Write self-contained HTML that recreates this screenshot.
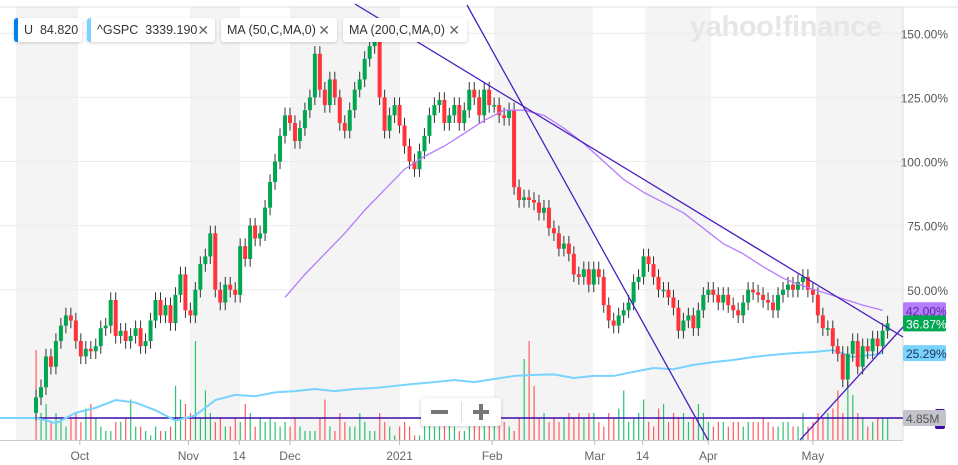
<!DOCTYPE html>
<html><head><meta charset="utf-8"><style>
body{margin:0;background:#fff;font-family:"Liberation Sans",sans-serif}
svg{display:block}
.chip{position:absolute;top:18px;height:24px;box-sizing:border-box;background:#fff;border-radius:3px;box-shadow:0 1px 3px rgba(0,0,0,.18);font-size:12.5px;color:#333;line-height:24px;padding:0 7px 0 10px;white-space:nowrap;display:flex;justify-content:space-between}
.chip .bar{position:absolute;left:0;top:0;bottom:0;width:4px;border-radius:3px 0 0 3px}
.x{color:#666;font-size:14px}
</style></head><body>
<div style="position:relative;width:958px;height:465px;overflow:hidden">
<svg id="c" width="958" height="465"></svg>
<div class="chip" style="left:14px;width:68px"><span class="bar" style="background:#0081f2"></span><span>U&nbsp; 84.820</span></div>
<div class="chip" style="left:87px;width:128px"><span class="bar" style="background:#79d3ff"></span><span>^GSPC&nbsp; 3339.190</span><span class="x">✕</span></div>
<div class="chip" style="left:221px;width:116px;padding-left:6px"><span>MA (50,C,MA,0)</span><span class="x">✕</span></div>
<div class="chip" style="left:343px;width:124px;padding-left:6px"><span>MA (200,C,MA,0)</span><span class="x">✕</span></div>
<div style="position:absolute;left:421px;top:398px;width:80px;height:28px;background:#fff;border-radius:3px;box-shadow:0 1px 4px rgba(0,0,0,.2)">
<div style="position:absolute;left:10px;top:12px;width:17px;height:4px;background:#777"></div>
<div style="position:absolute;left:40px;top:4px;width:1px;height:20px;background:#ddd"></div>
<div style="position:absolute;left:52px;top:12px;width:16px;height:4px;background:#777"></div>
<div style="position:absolute;left:58px;top:6px;width:4px;height:16px;background:#777"></div>
</div>
</div>
<script>
const closes=[8,12,24,20,30,36,40,38,30,24,27,26,28,35,36,46,32,34,30,32,35,28,30,38,46,40,44,37,48,56,42,40,50,60,63,72,50,45,52,50,48,67,62,75,70,72,82,92,100,110,118,115,108,113,120,125,142,128,122,132,125,115,112,120,128,132,140,145,148,125,112,118,122,114,106,100,97,104,110,118,122,124,115,118,122,115,120,128,125,118,128,122,122,118,117,120,90,85,86,85,84,80,82,74,72,66,68,64,56,55,58,52,58,55,44,38,36,40,42,45,53,55,63,60,55,50,50,47,43,34,38,40,35,42,48,50,48,45,48,44,42,40,45,50,49,48,46,45,42,48,50,52,50,53,55,50,48,40,35,35,28,25,15,25,30,20,28,26,31,28,34,36.87];
const volumes=[20,6,8,4,6,5,3,5,6,4,7,8,5,3,2,2,4,4,5,9,3,3,2,1,3,2,2,3,12,9,8,6,22,5,11,6,4,5,3,3,5,4,8,6,3,5,4,5,4,3,4,3,5,3,2,2,2,5,9,3,2,6,4,3,3,6,4,2,2,6,4,3,1,3,4,3,1,1,3,5,3,3,4,6,3,2,2,3,4,3,4,4,5,6,4,3,2,5,18,22,12,5,6,4,5,4,5,6,5,6,5,6,6,4,3,6,5,7,11,4,5,6,9,4,3,7,8,4,6,5,6,4,5,8,6,4,3,4,4,3,4,4,3,4,4,4,5,4,3,3,4,4,3,3,6,3,4,6,5,6,7,11,6,13,10,6,5,3,4,5,5,4.85];
const gspc=[0,-2,2,4,7,6,3,-1,1,7,9,8.5,10,10.5,11.3,10.5,11.3,11.7,12.5,13.3,14,14.8,14,15.2,16.4,16.8,17,15.6,16.4,16.4,18,19.5,19,20.7,21.8,22.6,23.8,24.6,25.3,25.7,26.5,23.8,24.6,25.29];
const ma50=[47,56,64,72,81,89,97,102,106,111,116,120,120,118,113,107,100,93,88,84,80,74,68,64,59,54.5,51.5,49,46.5,44,42];
const yTicks=[150,125,100,75,50];
const xLabels=["Oct","Nov","14","Dec","2021","Feb","Mar","14","Apr","May"];
const xLabelIdx=[8.8,30.6,40.8,51,73,91.6,112.2,121.8,135,156];

const NS="http://www.w3.org/2000/svg",svg=document.getElementById('c');
const X=i=>36+i*4.98, Y=p=>418-p*2.565, VY=v=>440-v*4.5;
function el(t,a,p){const e=document.createElementNS(NS,t);for(const k in a)e.setAttribute(k,a[k]);(p||svg).appendChild(e);return e;}
[[16,78],[190,240],[290,400],[494,593],[645,711],[816,903]].forEach(b=>{const r=el('rect',{x:b[0],y:7,width:b[1]-b[0],height:433,fill:'#f4f4f4'});

});
el('line',{x1:0,y1:7,x2:958,y2:7,stroke:'#e0e0e0'});
el('text',{x:690,y:36,'font-size':29,'font-weight':'bold',fill:'#e6e6e6','font-family':'Liberation Sans','textLength':192}).textContent='yahoo!finance';
yTicks.forEach(t=>{el('line',{x1:0,x2:903,y1:Y(t),y2:Y(t),stroke:'#ececec'});
const tx=el('text',{x:948,y:Y(t)+5,'font-size':12,fill:'#555','text-anchor':'end'});tx.textContent=t.toFixed(2)+'%';

});
el('line',{x1:903,x2:903,y1:7,y2:440,stroke:'#ddd'});
el('line',{x1:0,x2:903,y1:440.5,y2:440.5,stroke:'#ccc'});
xLabels.forEach((l,k)=>{const x=X(xLabelIdx[k]);el('line',{x1:x,x2:x,y1:440,y2:445,stroke:'#bbb'});
const tx=el('text',{x:x,y:460,'font-size':12,fill:'#666','text-anchor':'middle'});tx.textContent=l;

});
volumes.forEach((v,i)=>{const up=i==0?false:closes[i]>=closes[i-1];const r=el('rect',{x:X(i)-0.5,y:VY(v),width:1.2,height:440-VY(v),fill:up?'#2bc271':'#ff5a5f'});

});
el('line',{x1:0,x2:903,y1:418,y2:418,stroke:'#3d0aa8','stroke-width':1.5});
let gp='M0 '+Y(0)+' L'+X(0)+' '+Y(gspc[0]);gspc.forEach((v,k)=>{gp+=' L'+X(Math.min(k*4,170))+' '+Y(v);});
const g=el('path',{d:gp,fill:'none',stroke:'#79d3ff','stroke-width':2});


closes.forEach((c,i)=>{const o=i==0?2:closes[i-1];const up=c>=o;const hi=Math.max(o,c)+3,lo=Math.min(o,c)-3;
const grp=el('g',{});


el('line',{x1:X(i),x2:X(i),y1:Y(hi),y2:Y(lo),stroke:'#333','stroke-width':1},grp);
el('rect',{x:X(i)-2,y:Y(Math.max(o,c)),width:4,height:Math.max(1.5,Math.abs(Y(o)-Y(c))),fill:up?'#00a650':'#ff333a'},grp);});
let mp='';ma50.forEach((v,k)=>{mp+=(k?' L':'M')+X(50+k*4)+' '+Y(v);});
const m=el('path',{d:mp,fill:'none',stroke:'#b57bff','stroke-width':1.3});


[[355,4,903,337],[467,5,708,440],[800,440,903,327]].forEach(t=>{const l=el('line',{x1:t[0],y1:t[1],x2:t[2],y2:t[3],stroke:'#4b1fc0','stroke-width':1.3});

});
function tag(v,txt,bg,fg,nm,yy){const y=yy!==undefined?yy:Y(v);const r=el('rect',{x:903,y:y-8,width:43,height:16,rx:2,fill:bg});


el('text',{x:906,y:y+5,'font-size':12,fill:fg}).textContent=txt;}
el('rect',{x:935,y:409,width:10,height:20,rx:2,fill:'#3d0aa8'});
tag(0,'4.85M','#c3c3cb','#555','volume-tag',418);
tag(42,'42.00%','#b57bff','#5a2a99','ma50-tag');
tag(closes[closes.length-1],'36.87%','#00a650','#fff','price-tag');
tag(25.29,'25.29%','#79d3ff','#235','gspc-tag');
</script>
</body></html>
